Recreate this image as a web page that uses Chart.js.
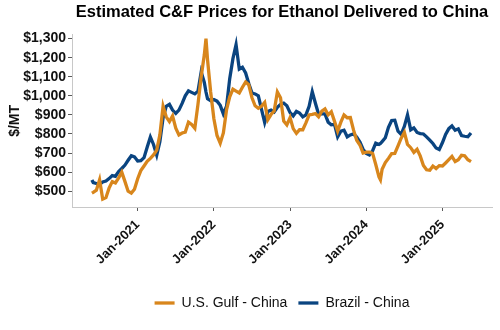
<!DOCTYPE html>
<html>
<head>
<meta charset="utf-8">
<script src="https://cdn.jsdelivr.net/npm/chart.js@4.4.0/dist/chart.umd.min.js"></script>
<style>
  html, body { margin: 0; padding: 0; background: #fff; }
  canvas { display: block; }
</style>
</head>
<body>
<canvas id="ethanolChart" width="500" height="330"></canvas>
<script>
// Readings taken about twice a month, plus a couple of extra dates on the sharp peaks
const dates = [
  '2020-05-25', '2020-06-01', '2020-06-16', '2020-07-01', '2020-07-16', '2020-08-01', '2020-08-16',
  '2020-09-01', '2020-09-16', '2020-10-01', '2020-10-16', '2020-11-01', '2020-11-16', '2020-12-01', '2020-12-16',
  '2021-01-01', '2021-01-16', '2021-02-01', '2021-02-16', '2021-03-01', '2021-03-16', '2021-04-01', '2021-04-16',
  '2021-05-01', '2021-05-16', '2021-06-01', '2021-06-16', '2021-07-01', '2021-07-16', '2021-08-01', '2021-08-16',
  '2021-09-01', '2021-09-16', '2021-10-01', '2021-10-16', '2021-11-01', '2021-11-16', '2021-11-24', '2021-12-01', '2021-12-16',
  '2022-01-01', '2022-01-16', '2022-02-01', '2022-02-16', '2022-03-01', '2022-03-16', '2022-04-01', '2022-04-16',
  '2022-05-01', '2022-05-16', '2022-06-01', '2022-06-16', '2022-07-01', '2022-07-16', '2022-08-01', '2022-08-16',
  '2022-09-01', '2022-09-16', '2022-10-01', '2022-10-16', '2022-11-01', '2022-11-16', '2022-12-01', '2022-12-16',
  '2023-01-01', '2023-01-16', '2023-02-01', '2023-02-16', '2023-03-01', '2023-03-16', '2023-04-01', '2023-04-16',
  '2023-05-01', '2023-05-16', '2023-06-01', '2023-06-16', '2023-07-01', '2023-07-16', '2023-08-01', '2023-08-16',
  '2023-09-01', '2023-09-16', '2023-10-01', '2023-10-16', '2023-11-01', '2023-11-16', '2023-12-01', '2023-12-16',
  '2024-01-01', '2024-01-16', '2024-02-01', '2024-02-16', '2024-03-01', '2024-03-08', '2024-03-16', '2024-04-01', '2024-04-16',
  '2024-05-01', '2024-05-16', '2024-06-01', '2024-06-16', '2024-07-01', '2024-07-16', '2024-08-01', '2024-08-16',
  '2024-09-01', '2024-09-16', '2024-10-01', '2024-10-16', '2024-11-01', '2024-11-16', '2024-12-01', '2024-12-16',
  '2025-01-01', '2025-01-16', '2025-02-01', '2025-02-16', '2025-03-01', '2025-03-16', '2025-04-01', '2025-04-16',
  '2025-05-01', '2025-05-16'
];

const usGulfChina = [
  490, 494, 505, 560, 458, 466, 516, 550, 543, 570, 600, 550, 500, 490, 510,
  565, 608, 632, 656, 672, 690, 715, 795, 945, 890, 865, 895, 830, 795, 805, 810,
  862, 850, 830, 955, 1100, 1215, 1300, 1190, 1020,
  880, 792, 752, 805, 928, 995, 1035, 1025, 1015, 1045, 1072, 1058,
  990, 948, 935, 945, 965, 875, 902, 920, 1020, 990, 868, 848,
  886, 828, 803, 822, 822, 858, 900, 903, 907, 890, 920, 931,
  900, 916, 866, 815, 862, 900, 885, 886, 820, 767, 742, 700,
  705, 705, 698, 640, 575, 560, 615, 650, 672, 697, 698, 738, 778,
  808, 745, 728, 703, 720, 685, 635, 612, 610, 632, 619, 634,
  632, 648, 665, 682, 655, 665, 688, 686, 665, 655
];

const brazilChina = [
  559, 545, 540, 535, 548, 553, 566, 582, 578, 603, 619, 637, 662, 686, 680,
  658, 660, 676, 730, 784, 745, 689, 760, 885, 945, 955, 925, 908, 925, 960, 1000,
  1026, 1018, 1010, 1024, 1125, 1070, 1020, 985, 974,
  980, 972, 950, 905, 946, 1090, 1195, 1268, 1140, 1150, 1120, 1065,
  1015, 1010, 1000, 930, 860, 918, 925, 915, 940, 955, 962, 948,
  912, 895, 918, 910, 890, 900, 945, 1022, 960, 903, 905, 905,
  862, 848, 850, 785, 815, 820, 785, 795, 800, 784, 758, 720,
  698, 690, 712, 752, 745, 750, 760, 780, 835, 870, 872, 815, 798,
  840, 900, 822, 832, 808, 802, 800, 785, 768, 750, 726, 718,
  755, 798, 828, 842, 820, 827, 792, 788, 785, 805
];

const yTicks = [500, 600, 700, 800, 900, 1000, 1100, 1200, 1300];
const xTickYears = [2021, 2022, 2023, 2024, 2025];
const xTickLabels = ['Jan-2021', 'Jan-2022', 'Jan-2023', 'Jan-2024', 'Jan-2025'];

const FONT = "'Liberation Sans', Arial, sans-serif";

// date string -> decimal year, so a plain linear axis can be used
function toYear(s) {
  const [y, m, d] = s.split('-').map(Number);
  return y + (m - 1) / 12 + (d - 1) / 365;
}

function points(values) {
  return dates.map((d, i) => ({ x: toYear(d), y: values[i] }));
}

const ctx = document.getElementById('ethanolChart').getContext('2d');

new Chart(ctx, {
  type: 'line',
  data: {
    datasets: [
      {
        label: 'U.S. Gulf - China',
        data: points(usGulfChina),
        borderColor: '#D8861C',
        backgroundColor: '#D8861C',
        borderWidth: 3.3,
        pointRadius: 0,
        pointStyle: 'line',
        tension: 0
      },
      {
        label: 'Brazil - China',
        data: points(brazilChina),
        borderColor: '#0A4480',
        backgroundColor: '#0A4480',
        borderWidth: 3.3,
        pointRadius: 0,
        pointStyle: 'line',
        tension: 0
      }
    ]
  },
  options: {
    responsive: false,
    animation: false,
    layout: { padding: { left: 0, right: 8, top: 0, bottom: 10 } },
    scales: {
      x: {
        type: 'linear',
        min: 2020.138,
        max: 2025.65,
        afterBuildTicks: (scale) => {
          scale.ticks = xTickYears.map(v => ({ value: v }));
        },
        afterFit: (scale) => { scale.height = 78; },
        ticks: {
          autoSkip: false,
          minRotation: 45,
          maxRotation: 45,
          padding: 6,
          color: '#111',
          font: { family: FONT, size: 13, weight: 'bold' },
          callback: (value) => xTickLabels[xTickYears.indexOf(value)]
        },
        grid: {
          drawOnChartArea: false,
          drawTicks: true,
          tickLength: 4,
          tickColor: '#595959'
        },
        border: { display: true, color: '#C8C8C8', width: 1 }
      },
      y: {
        min: 417,
        max: 1320,
        afterBuildTicks: (scale) => {
          scale.ticks = yTicks.map(v => ({ value: v }));
        },
        afterFit: (scale) => { scale.width = 72; },
        ticks: {
          padding: 2,
          color: '#111',
          font: { family: FONT, size: 14, weight: 'bold' },
          callback: (value) => '$' + value.toLocaleString('en-US')
        },
        grid: {
          drawOnChartArea: false,
          drawTicks: true,
          tickLength: 4,
          tickColor: '#595959'
        },
        border: { display: true, color: '#C8C8C8', width: 1 },
        title: {
          display: true,
          text: '$/MT',
          color: '#111',
          padding: { top: 7, bottom: 0 },
          font: { family: FONT, size: 14, weight: 'bold' }
        }
      }
    },
    plugins: {
      title: {
        display: true,
        text: 'Estimated C&F Prices for Ethanol Delivered to China',
        fullSize: false,
        color: '#000',
        padding: { top: 3, bottom: 12 },
        font: { family: FONT, size: 16.5, weight: 'bold', lineHeight: 1.2 }
      },
      legend: {
        position: 'bottom',
        fullSize: false,
        labels: {
          usePointStyle: true,
          pointStyleWidth: 20,
          padding: 11,
          color: '#111',
          font: { family: FONT, size: 14 }
        }
      },
      tooltip: { enabled: false }
    }
  }
});
</script>
</body>
</html>
